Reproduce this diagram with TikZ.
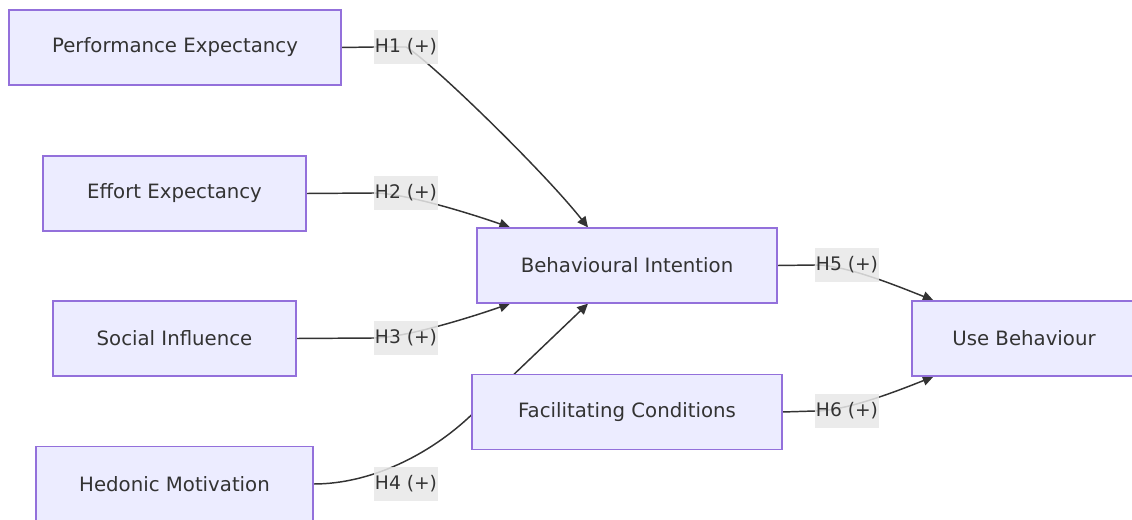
\documentclass[tikz,border=0pt]{standalone}
\usepackage{fontspec}
\setmainfont{DejaVu Sans}
\usetikzlibrary{arrows.meta,calc,backgrounds}
\definecolor{boxfill}{HTML}{ECECFF}
\definecolor{boxline}{HTML}{9370DB}
\definecolor{ink}{HTML}{333333}
\definecolor{lblbg}{HTML}{E8E8E8}
\begin{document}
\begin{tikzpicture}[x=0.75pt,y=-0.75pt,
  box/.style={draw=boxline,fill=boxfill,line width=0.9pt,minimum height=56.25pt,
    inner sep=0pt,text=ink,font=\fontsize{14.8}{17}\selectfont},
  lbl/.style={fill=lblbg,fill opacity=0.85,text opacity=1,text=ink,inner xsep=0.5pt,
    minimum height=25.5pt,font=\fontsize{14}{17}\selectfont},
  conn/.style={draw=ink,line width=1.1pt},
  arr/.style={conn,-{Triangle[length=8pt,width=7.5pt]}}]
\useasboundingbox (0,0) rectangle (1132,520);
\clip (0,0) rectangle (1132,520);
% nodes
\node[box,minimum width=249pt] (pe) at (175,47.5) {Performance Expectancy};
\node[box,minimum width=197.25pt] (ee) at (174.5,193.5) {Effort Expectancy};
\node[box,minimum width=182.25pt] (si) at (174.5,338.5) {Social Influence};
\node[box,minimum width=207.75pt] (hm) at (174.5,484) {Hedonic Motivation};
\node[box,minimum width=225pt] (bi) at (627,265.5) {Behavioural Intention};
\node[box,minimum width=232.5pt] (fc) at (627,412) {Facilitating Conditions};
\node[box,minimum width=168pt] (ub) at (1024,338.5) {Use Behaviour};
% labels
\node[lbl] (h1) at (406,47) {H1 (+)};
\node[lbl] (h2) at (406,193) {H2 (+)};
\node[lbl] (h3) at (406,338) {H3 (+)};
\node[lbl] (h4) at (406,484) {H4 (+)};
\node[lbl] (h5) at (847,265) {H5 (+)};
\node[lbl] (h6) at (847,411) {H6 (+)};
% connectors
\begin{scope}[on background layer]
\draw[arr] (pe.east) -- (h1.west) -- (h1.center) .. controls +(22,12) and +(-46,-58) .. ($(bi.north)+(-39,0)$);
\draw[arr] (ee.east) -- (h2.west) .. controls +(30,0) and +(-40,-14) .. ($(bi.north)+(-117,0)$);
\draw[arr] (si.east) -- (h3.west) .. controls +(30,0) and +(-40,14) .. ($(bi.south)+(-117,0)$);
\draw[conn] (hm.east) .. controls +(57,0) and +(-42,40) .. (fc.west |- 0,415);
\draw[arr] (fc.west |- 0,415) -- ($(bi.south)+(-39,0)$);
\draw[arr] (bi.east) -- (h5.west) .. controls +(30,0) and +(-40,-16) .. ($(ub.north west)+(22,0)$);
\draw[arr] (fc.east) -- (h6.west) .. controls +(30,0) and +(-40,16) .. ($(ub.south west)+(22,0)$);
\end{scope}
\end{tikzpicture}
\end{document}
